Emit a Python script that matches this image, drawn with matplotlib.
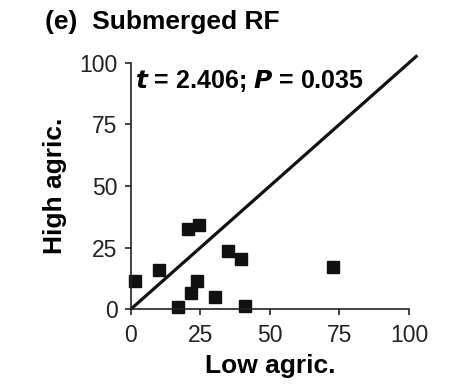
import matplotlib.pyplot as plt
plt.switch_backend('Agg')

plt.rcParams['font.family'] = ['Liberation Sans', 'DejaVu Sans']

## data
low_agric = [1.5, 10.0, 20.7, 24.7, 23.7, 21.6, 16.9, 30.2, 34.9, 39.6, 41.1, 72.8]
high_agric = [11.5, 15.9, 32.6, 34.2, 11.5, 6.7, 0.8, 5.1, 23.8, 20.3, 1.5, 17.3]
ticks = [0, 25, 50, 75, 100]
line_end = 103

fig = plt.figure(figsize=(4.57, 3.87), dpi=100)
ax = fig.add_axes([0.286, 0.2008, 0.609, 0.637])

ax.plot([0, line_end], [0, line_end], color='#111111', lw=2.3, clip_on=False,
        solid_capstyle='butt')
ax.plot(low_agric, high_agric, 's', color='#111111', ms=8.6, clip_on=False)

ax.set_xlim(0, 100)
ax.set_ylim(0, 100)
ax.set_xticks(ticks)
ax.set_yticks(ticks)
for s in ['top', 'right']:
    ax.spines[s].set_visible(False)
for s in ['left', 'bottom']:
    ax.spines[s].set_linewidth(1.2)
    ax.spines[s].set_color('#222222')
ax.tick_params(direction='out', length=4.5, width=1.2, labelsize=16.5,
               colors='#222222')
ax.tick_params(axis='x', pad=6)
ax.tick_params(axis='y', pad=5)

ax.set_xlabel('Low agric.', fontsize=19, fontweight='bold', labelpad=5)
ax.set_ylabel('High agric.', fontsize=19, fontweight='bold', labelpad=9)

ax.text(0.015, 0.925, r'$\boldsymbol{t}$ = 2.406; $\boldsymbol{P}$ = 0.035',
        transform=ax.transAxes, fontsize=18, fontweight='bold',
        va='center', ha='left')
fig.text(0.098, 0.943, '(e)  Submerged RF', fontsize=19, fontweight='bold',
         va='center', ha='left')

plt.savefig('out.png', dpi=100)
plt.close('all')
